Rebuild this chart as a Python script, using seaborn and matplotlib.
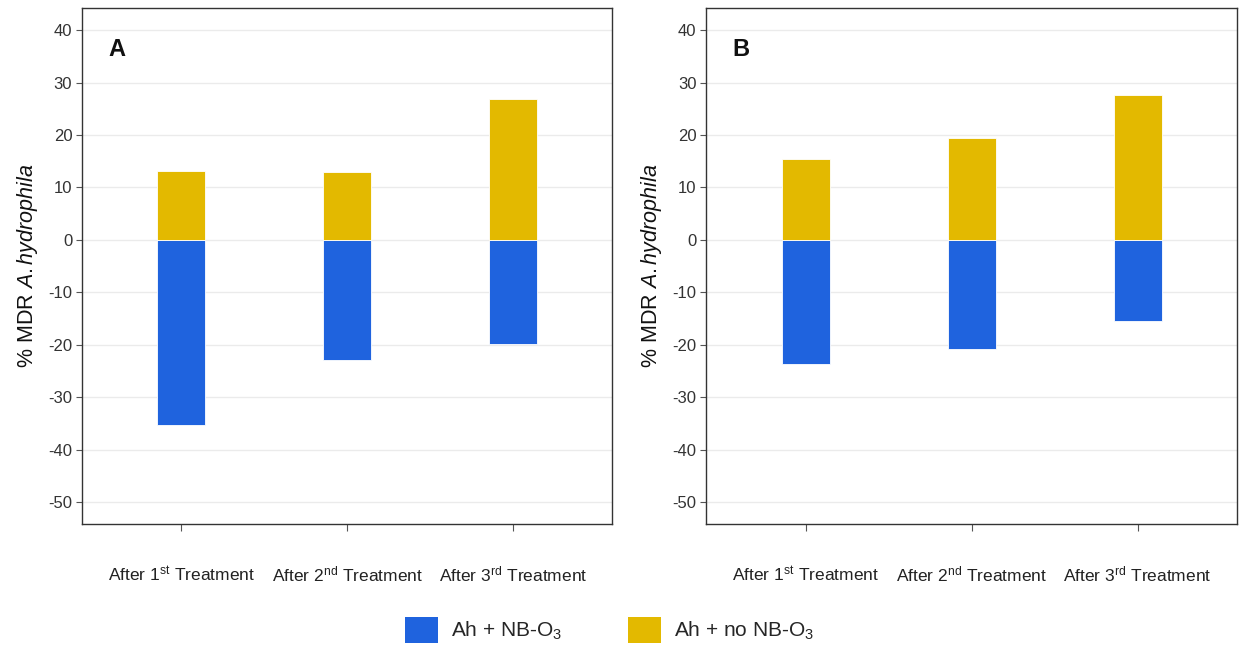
import pandas as pd
import numpy as np
import seaborn as sns
import matplotlib.pyplot as plt
from matplotlib.patches import Patch

sns.set_theme(style="white")
plt.rcParams['font.family'] = ['Liberation Sans', 'DejaVu Sans']
plt.rcParams['mathtext.fontset'] = 'custom'
plt.rcParams['mathtext.rm'] = 'Liberation Sans'
plt.rcParams['mathtext.it'] = 'Liberation Sans:italic'
plt.rcParams['axes.unicode_minus'] = False

# dados
tratamentos = [r"After 1$^{\mathrm{st}}$ Treatment",
               r"After 2$^{\mathrm{nd}}$ Treatment",
               r"After 3$^{\mathrm{rd}}$ Treatment"]
grupos = [r"Ah + NB-O$_3$", r"Ah + no NB-O$_3$"]
a_com_nb = [-35.3, -23.0, -19.8]
a_sem_nb = [13.2, 12.9, 26.8]
b_com_nb = [-23.6, -20.8, -15.5]
b_sem_nb = [15.4, 19.5, 27.7]
yticks = [40, 30, 20, 10, 0, -10, -20, -30, -40, -50]

cores = {grupos[0]: "#1F63DE", grupos[1]: "#E3B900"}

linhas = []
for painel, com, sem in [("A", a_com_nb, a_sem_nb), ("B", b_com_nb, b_sem_nb)]:
    for t, v1, v2 in zip(tratamentos, com, sem):
        linhas.append({"painel": painel, "tratamento": t, "grupo": grupos[0], "valor": v1})
        linhas.append({"painel": painel, "tratamento": t, "grupo": grupos[1], "valor": v2})
df = pd.DataFrame(linhas)

fig = plt.figure(figsize=(12.39, 6.49), dpi=100)
ax_a = fig.add_axes([0.0662, 0.1926, 0.428, 0.795])
ax_b = fig.add_axes([0.570, 0.1926, 0.4285, 0.795])

for ax, painel in zip([ax_a, ax_b], ["A", "B"]):
    sub = df[df["painel"] == painel]
    sns.barplot(data=sub, x="tratamento", y="valor", hue="grupo", dodge=False,
                palette=cores, saturation=1, width=0.29, order=tratamentos,
                hue_order=grupos, edgecolor="white", linewidth=0.6,
                legend=False, ax=ax, zorder=3)
    ax.set_xlim(-0.6, 2.6)
    ax.set_ylim(-54.2, 44.2)
    ax.set_yticks(yticks)
    ax.grid(axis="y", color="#EBEBEB", linewidth=1.0, zorder=0)
    ax.set_axisbelow(True)
    for s in ax.spines.values():
        s.set_color("#333333")
        s.set_linewidth(1.0)
    ax.tick_params(axis="x", length=5, width=0.8, color="#555555", pad=24,
                   labelsize=12.5, labelcolor="#222222", bottom=True)
    ax.tick_params(axis="y", length=4, width=0.8, color="#555555", pad=3,
                   labelsize=12, labelcolor="#333333", left=True)
    ax.set_xlabel("")
    ax.set_ylabel(r"% MDR $\mathit{A{.}hydrophila}$", fontsize=15.5, color="#111111", labelpad=6)
    ax.text(0.065, 0.92, painel, transform=ax.transAxes, fontsize=17,
            fontweight="bold", color="#111111", va="center", ha="center")

handles = [Patch(facecolor=cores[g], edgecolor="none") for g in grupos]
fig.legend(handles, grupos, loc="upper center", bbox_to_anchor=(0.492, 0.050),
           ncol=2, frameon=False, fontsize=15, handlelength=1.55, handleheight=1.55,
           handletextpad=0.62, columnspacing=3.2, borderpad=0, borderaxespad=0)

plt.savefig("out.png", dpi=100)
plt.close()
